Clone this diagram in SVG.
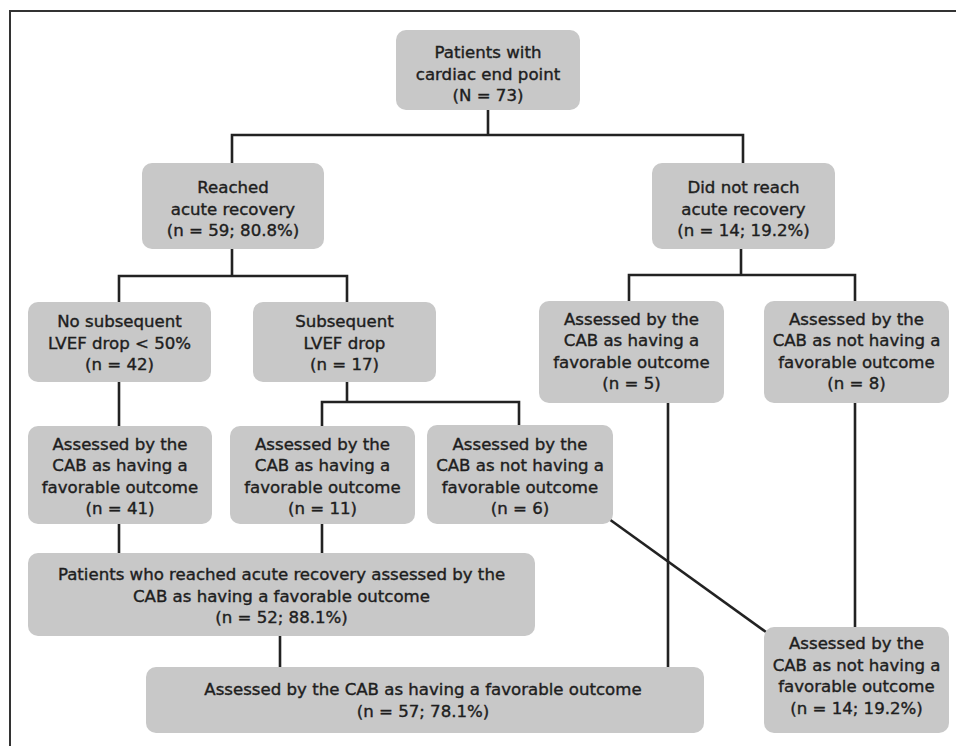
<svg xmlns="http://www.w3.org/2000/svg" width="956" height="746" viewBox="0 0 956 746">
<style>
.box{fill:#c8c8c8;}
.t{font-family:"DejaVu Sans","Liberation Sans",sans-serif;font-size:16.6px;fill:#1e1e1e;stroke:#1e1e1e;stroke-width:0.4px;text-anchor:middle;}
.c{fill:none;stroke:#222;stroke-width:2.6;}
</style>
<rect x="0" y="0" width="956" height="746" fill="#fff"/>
<path d="M10,746 V11 H956" fill="none" stroke="#333" stroke-width="2"/>
<g id="connectors">
<path class="c" d="M488,110 V135 M232,163 V135 H743 V163"/>
<path class="c" d="M232,249 V276 M119,302 V276 H347 V302"/>
<path class="c" d="M119,382 V426"/>
<path class="c" d="M347,382 V402 M322,426 V402 H519 V425"/>
<path class="c" d="M741,249 V275 M629,301 V275 H855 V301"/>
<path class="c" d="M119,524 V553 M322,524 V553"/>
<path class="c" d="M280,636 V667"/>
<path class="c" d="M668,403 V667"/>
<path class="c" d="M855,403 V627"/>
<path class="c" d="M609,519 L766,632"/>
</g>
<g id="n1"><rect class="box" x="396" y="30" width="184" height="80" rx="10"/>
<text class="t" x="488" y="58">Patients with</text><text class="t" x="488" y="79.5">cardiac end point</text><text class="t" x="488" y="101">(N = 73)</text></g>
<g id="n2"><rect class="box" x="142" y="163" width="182" height="86" rx="10"/>
<text class="t" x="233" y="193">Reached</text><text class="t" x="233" y="214.5">acute recovery</text><text class="t" x="233" y="236">(n = 59; 80.8%)</text></g>
<g id="n3"><rect class="box" x="652" y="163" width="183" height="86" rx="10"/>
<text class="t" x="743.5" y="193">Did not reach</text><text class="t" x="743.5" y="214.5">acute recovery</text><text class="t" x="743.5" y="236">(n = 14; 19.2%)</text></g>
<g id="n4"><rect class="box" x="28" y="302" width="183" height="80" rx="10"/>
<text class="t" x="119.5" y="327">No subsequent</text><text class="t" x="119.5" y="348.5">LVEF drop &lt; 50%</text><text class="t" x="119.5" y="370">(n = 42)</text></g>
<g id="n5"><rect class="box" x="253" y="302" width="183" height="80" rx="10"/>
<text class="t" x="344.5" y="327">Subsequent</text><text class="t" x="344.5" y="348.5">LVEF drop</text><text class="t" x="344.5" y="370">(n = 17)</text></g>
<g id="n6"><rect class="box" x="28" y="426" width="184" height="98" rx="10"/>
<text class="t" x="120" y="449.5">Assessed by the</text><text class="t" x="120" y="471">CAB as having a</text><text class="t" x="120" y="492.5">favorable outcome</text><text class="t" x="120" y="514">(n = 41)</text></g>
<g id="n7"><rect class="box" x="230" y="426" width="185" height="98" rx="10"/>
<text class="t" x="322.5" y="449.5">Assessed by the</text><text class="t" x="322.5" y="471">CAB as having a</text><text class="t" x="322.5" y="492.5">favorable outcome</text><text class="t" x="322.5" y="514">(n = 11)</text></g>
<g id="n8"><rect class="box" x="427" y="425" width="186" height="99" rx="10"/>
<text class="t" x="520" y="449.5">Assessed by the</text><text class="t" x="520" y="471">CAB as not having a</text><text class="t" x="520" y="492.5">favorable outcome</text><text class="t" x="520" y="514">(n = 6)</text></g>
<g id="n9"><rect class="box" x="539" y="301" width="185" height="102" rx="10"/>
<text class="t" x="631.5" y="324.5">Assessed by the</text><text class="t" x="631.5" y="346">CAB as having a</text><text class="t" x="631.5" y="367.5">favorable outcome</text><text class="t" x="631.5" y="389">(n = 5)</text></g>
<g id="n10"><rect class="box" x="764" y="301" width="185" height="102" rx="10"/>
<text class="t" x="856.5" y="324.5">Assessed by the</text><text class="t" x="856.5" y="346">CAB as not having a</text><text class="t" x="856.5" y="367.5">favorable outcome</text><text class="t" x="856.5" y="389">(n = 8)</text></g>
<g id="n11"><rect class="box" x="28" y="553" width="507" height="83" rx="10"/>
<text class="t" x="281.5" y="580">Patients who reached acute recovery assessed by the</text><text class="t" x="281.5" y="601.5">CAB as having a favorable outcome</text><text class="t" x="281.5" y="623">(n = 52; 88.1%)</text></g>
<g id="n12"><rect class="box" x="146" y="667" width="558" height="66" rx="10"/>
<text class="t" x="423" y="695">Assessed by the CAB as having a favorable outcome</text><text class="t" x="423" y="716.5">(n = 57; 78.1%)</text></g>
<g id="n13"><rect class="box" x="764" y="627" width="185" height="106" rx="10"/>
<text class="t" x="856.5" y="649">Assessed by the</text><text class="t" x="856.5" y="670.5">CAB as not having a</text><text class="t" x="856.5" y="692">favorable outcome</text><text class="t" x="856.5" y="713.5">(n = 14; 19.2%)</text></g>
</svg>
